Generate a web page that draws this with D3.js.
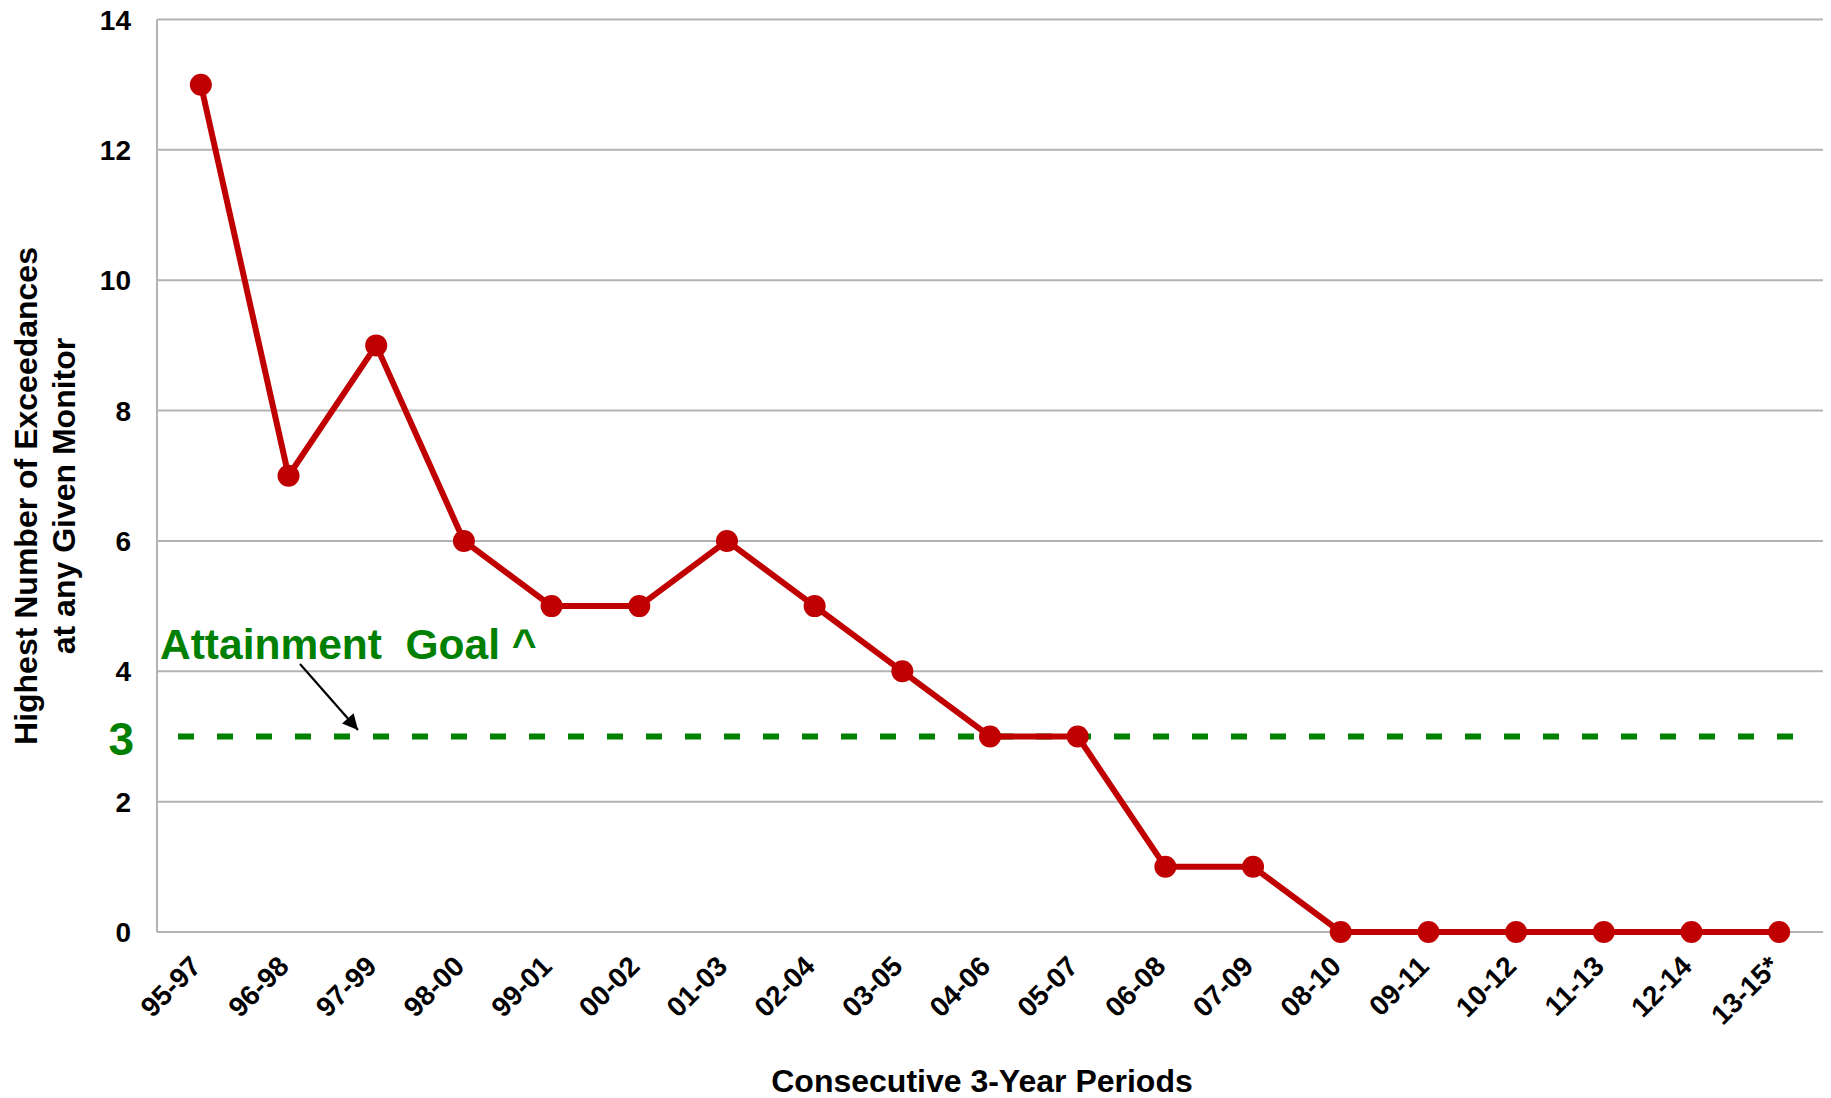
<!DOCTYPE html>
<html>
<head>
<meta charset="utf-8">
<script src="https://cdn.jsdelivr.net/npm/d3@7"></script>
<style>
  body { margin: 0; background: #fff; }
  text { font-family: "Liberation Sans", Arial, sans-serif; font-weight: bold; }
</style>
</head>
<body>
<div id="vis"></div>
<script>
// periods along the x axis
var periods = ["95-97", "96-98", "97-99", "98-00", "99-01", "00-02", "01-03", "02-04",
  "03-05", "04-06", "05-07", "06-08", "07-09", "08-10", "09-11", "10-12", "11-13",
  "12-14", "13-15*"];
// highest number of exceedances at any monitor
var exceedances = [13, 7, 9, 6, 5, 5, 6, 5, 4, 3, 3, 1, 1, 0, 0, 0, 0, 0, 0];
var yTicks = [0, 2, 4, 6, 8, 10, 12, 14];
var goal = 3;

var width = 1831, height = 1098;
var margin = { top: 19.5, right: 8, bottom: 166, left: 157 };

var svg = d3.select("#vis").append("svg")
  .attr("width", width)
  .attr("height", height);

var x = d3.scalePoint()
  .domain(periods)
  .range([margin.left, width - margin.right])
  .padding(0.5);

var y = d3.scaleLinear()
  .domain([0, 14])
  .range([height - margin.bottom, margin.top]);

// gridlines
svg.append("g")
  .selectAll("line")
  .data(yTicks)
  .enter().append("line")
  .attr("x1", margin.left)
  .attr("x2", width - margin.right)
  .attr("y1", function(d) { return y(d); })
  .attr("y2", function(d) { return y(d); })
  .attr("stroke", "#b3b3b3")
  .attr("stroke-width", 2);

// left axis line
svg.append("line")
  .attr("x1", margin.left).attr("x2", margin.left)
  .attr("y1", y(14)).attr("y2", y(0))
  .attr("stroke", "#b3b3b3")
  .attr("stroke-width", 2);

// y tick labels
svg.append("g")
  .selectAll("text")
  .data(yTicks)
  .enter().append("text")
  .attr("x", 131)
  .attr("y", function(d) { return y(d); })
  .attr("dy", "0.36em")
  .attr("text-anchor", "end")
  .style("font-size", "28px")
  .attr("fill", "#000")
  .text(function(d) { return d; });

// x tick labels, rotated
svg.append("g")
  .selectAll("text")
  .data(periods)
  .enter().append("text")
  .attr("transform", function(d) {
    return "translate(" + (x(d) + 2) + ",968) rotate(-45)";
  })
  .attr("text-anchor", "end")
  .style("font-size", "28px")
  .attr("fill", "#000")
  .text(function(d) { return d; });

// attainment goal line
svg.append("line")
  .attr("x1", 178).attr("x2", 1794)
  .attr("y1", y(goal)).attr("y2", y(goal))
  .attr("stroke", "#008000")
  .attr("stroke-width", 6)
  .attr("stroke-dasharray", "16,23");

svg.append("text")
  .attr("x", 134)
  .attr("y", 755)
  .attr("text-anchor", "end")
  .style("font-size", "46px")
  .attr("fill", "#008000")
  .text(goal);

svg.append("text")
  .attr("x", 160)
  .attr("y", 659)
  .attr("xml:space", "preserve")
  .style("white-space", "pre")
  .style("font-size", "42.5px")
  .attr("fill", "#008000")
  .text("Attainment  Goal ^");

// arrow
svg.append("defs").append("marker")
  .attr("id", "arrow")
  .attr("viewBox", "0 0 10 10")
  .attr("refX", 10).attr("refY", 5)
  .attr("markerWidth", 9).attr("markerHeight", 7)
  .attr("markerUnits", "strokeWidth")
  .attr("orient", "auto")
  .append("path")
  .attr("d", "M0,0 L10,5 L0,10 z")
  .attr("fill", "#000");

svg.append("line")
  .attr("x1", 300).attr("y1", 664)
  .attr("x2", 358).attr("y2", 730)
  .attr("stroke", "#000")
  .attr("stroke-width", 2.2)
  .attr("marker-end", "url(#arrow)");

// data line
var line = d3.line()
  .x(function(d, i) { return x(periods[i]); })
  .y(function(d) { return y(d); });

svg.append("path")
  .datum(exceedances)
  .attr("d", line)
  .attr("fill", "none")
  .attr("stroke", "#c00000")
  .attr("stroke-width", 6)
  .attr("stroke-linejoin", "round");

svg.append("g")
  .selectAll("circle")
  .data(exceedances)
  .enter().append("circle")
  .attr("cx", function(d, i) { return x(periods[i]); })
  .attr("cy", function(d) { return y(d); })
  .attr("r", 11)
  .attr("fill", "#c00000");

// axis titles
svg.append("text")
  .attr("x", 982)
  .attr("y", 1092)
  .attr("text-anchor", "middle")
  .style("font-size", "32px")
  .attr("fill", "#000")
  .text("Consecutive 3-Year Periods");

var yTitle = svg.append("text")
  .attr("transform", "translate(0,496) rotate(-90)")
  .attr("text-anchor", "middle")
  .style("font-size", "32px")
  .attr("fill", "#000");
yTitle.append("tspan").attr("x", 0).attr("y", 37).text("Highest Number of Exceedances");
yTitle.append("tspan").attr("x", 0).attr("y", 75).text("at any Given Monitor");
</script>
</body>
</html>
